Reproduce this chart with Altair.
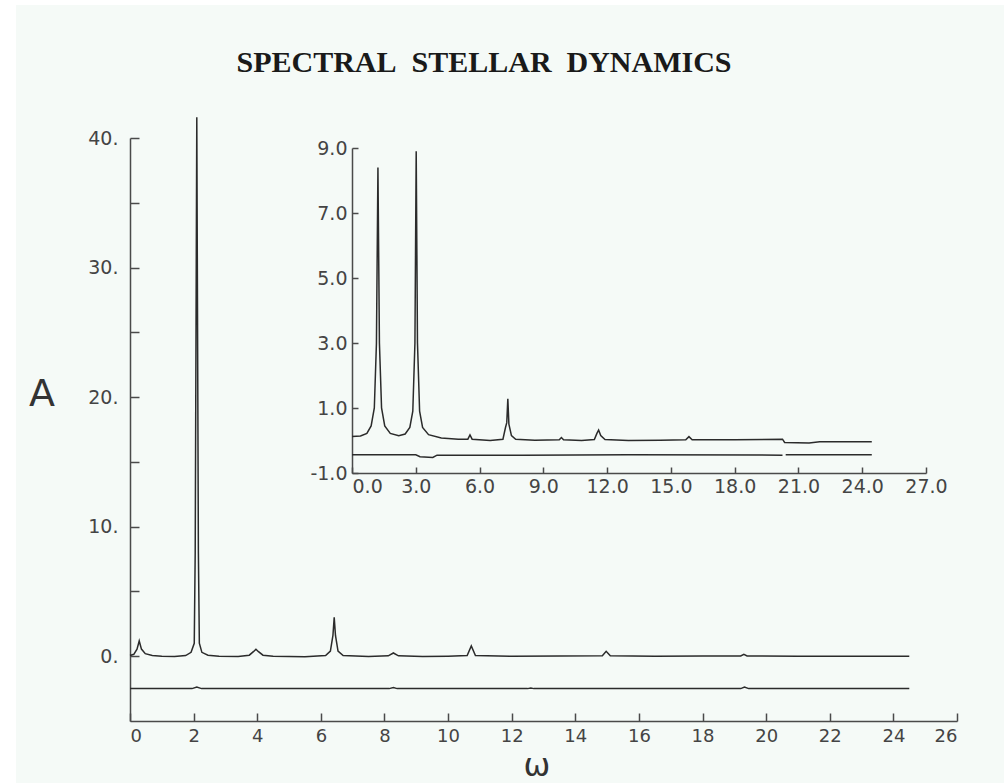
import altair as alt
import pandas as pd

# ---- main spectrum: upper trace (omega, amplitude)
main_upper_w = [0.00, 0.12, 0.22, 0.29, 0.36, 0.48, 0.70, 1.00, 1.40, 1.75, 1.92, 2.02,
                2.05, 2.10, 2.15, 2.18, 2.26, 2.45, 2.80, 3.40, 3.75, 3.88, 3.96, 4.04,
                4.18, 4.50, 5.50, 6.15, 6.30, 6.38, 6.42, 6.46, 6.54, 6.70, 7.50, 8.12,
                8.28, 8.44, 9.20, 10.00, 10.60, 10.73, 10.86, 12.00, 13.50, 14.85, 14.97,
                15.10, 16.50, 18.00, 19.20, 19.30, 19.40, 21.00, 23.00, 24.50]
main_upper_a = [0.05, 0.15, 0.55, 1.18, 0.55, 0.20, 0.05, 0.00, -0.02, 0.05, 0.30, 1.00,
                8.00, 41.60, 8.00, 1.00, 0.30, 0.08, 0.00, -0.03, 0.08, 0.35, 0.54, 0.35,
                0.08, 0.00, -0.04, 0.05, 0.40, 1.60, 3.00, 1.60, 0.40, 0.05, -0.02, 0.03,
                0.25, 0.03, -0.03, 0.00, 0.05, 0.80, 0.05, 0.00, 0.02, 0.03, 0.38,
                0.03, 0.00, 0.02, 0.02, 0.15, 0.02, 0.00, 0.00, 0.00]

# ---- main spectrum: lower trace
main_lower_w = [0.00, 1.95, 2.10, 2.25, 8.15, 8.28, 8.40, 12.50, 12.60, 12.70, 19.20,
                19.32, 19.45, 24.50]
main_lower_a = [-2.50, -2.50, -2.38, -2.50, -2.50, -2.42, -2.50, -2.50, -2.45, -2.50,
                -2.50, -2.38, -2.50, -2.50]

# ---- inset spectrum: upper trace
inset_upper_w = [0.00, 0.40, 0.70, 0.90, 1.05, 1.15, 1.22, 1.29, 1.39, 1.54, 1.80, 2.20,
                 2.50, 2.72, 2.86, 2.96, 3.02, 3.08, 3.18, 3.32, 3.60, 4.20, 5.00, 5.45,
                 5.55, 5.65, 6.50, 7.10, 7.22, 7.28, 7.33, 7.38, 7.50, 7.70, 8.60, 9.75,
                 9.85, 9.95, 10.80, 11.40, 11.52, 11.60, 11.70, 11.90, 13.00, 14.50, 15.70,
                 15.85, 16.00, 18.00, 20.25, 20.35, 21.50, 22.00, 24.45]
inset_upper_a = [0.12, 0.14, 0.22, 0.45, 1.00, 3.00, 8.40, 3.00, 1.00, 0.45, 0.22, 0.15,
                 0.20, 0.40, 0.90, 3.00, 8.90, 3.00, 0.90, 0.40, 0.18, 0.08, 0.04, 0.04,
                 0.17, 0.04, 0.00, 0.04, 0.40, 0.55, 1.28, 0.50, 0.15, 0.04, 0.01, 0.02,
                 0.09, 0.02, 0.00, 0.03, 0.22, 0.32, 0.15, 0.03, 0.00, 0.01, 0.02,
                 0.12, 0.02, 0.02, 0.04, -0.06, -0.08, -0.04, -0.04]

# ---- inset spectrum: lower trace (pen lifted near omega = 20.3)
inset_lower_w = [0.00, 3.00, 3.20, 3.80, 4.00, 8.00, 13.00, 20.25, 20.40, 24.45]
inset_lower_a = [-0.44, -0.44, -0.50, -0.52, -0.45, -0.45, -0.44, -0.45, -0.44, -0.44]
inset_lower_seg = [0, 0, 0, 0, 0, 0, 0, 0, 1, 1]

# ---- axis ticks
main_x_ticks = list(range(0, 27, 2))
main_y_labels = [0, 10, 20, 30, 40]
main_y_ticks = [0, 5, 10, 15, 20, 25, 30, 35, 40]
inset_x_ticks = [0, 3, 6, 9, 12, 15, 18, 21, 24, 27]
inset_y_ticks = [-1, 1, 3, 5, 7, 9]

NBSP = "\u00a0"
TITLE = f"SPECTRAL{NBSP}{NBSP}STELLAR{NBSP}{NBSP}DYNAMICS"

# plot-area geometry (pixels)
W, H = 827, 583
INSET_X = [222, 796]
INSET_Y = [335, 10]

INK = "#2b2b2b"
AXIS = "#4a4a4a"
FONT = "DejaVu Sans"
LABEL = "#444444"

main_upper = pd.DataFrame({"w": main_upper_w, "a": main_upper_a})
main_lower = pd.DataFrame({"w": main_lower_w, "a": main_lower_a})
inset_upper = pd.DataFrame({"w": inset_upper_w, "a": inset_upper_a})
inset_lower = pd.DataFrame({"w": inset_lower_w, "a": inset_lower_a, "seg": inset_lower_seg})

main_xs = alt.Scale(domain=[0, 26], range=[0, W], nice=False, zero=False)
main_ys = alt.Scale(domain=[-5, 40], range=[H, 0], nice=False, zero=False)
inset_xs = alt.Scale(domain=[0, 27], range=INSET_X, nice=False, zero=False)
inset_ys = alt.Scale(domain=[-1, 9], range=INSET_Y, nice=False, zero=False)

common = dict(grid=False, title=None, domainColor=AXIS, domainWidth=1.5,
              tickColor=AXIS, tickWidth=1.5, labelFont=FONT, labelColor=LABEL)

# one-decimal labels written with a plain hyphen for negatives
ONE_DEC = "(datum.value < 0 ? '-' : '') + format(abs(datum.value), '.1f')"

line = dict(color=INK, strokeWidth=1.5, clip=False)

# main upper trace, carries the labelled axes
l_main_upper = alt.Chart(main_upper).mark_line(**line).encode(
    x=alt.X("w:Q", scale=main_xs, axis=alt.Axis(
        orient="bottom", values=main_x_ticks, ticks=False, labelPadding=6,
        labelFontSize=18, format="d", **common)),
    y=alt.Y("a:Q", scale=main_ys, axis=alt.Axis(
        orient="left", values=main_y_labels, ticks=False, labelPadding=12,
        labelFontSize=19, labelExpr="datum.value + '.'", **common)),
)

# main lower trace, carries the inward tick marks
l_main_lower = alt.Chart(main_lower).mark_line(**line).encode(
    x=alt.X("w:Q", scale=main_xs, axis=alt.Axis(
        orient="bottom", values=main_x_ticks, labels=False, domain=False,
        tickSize=8, offset=-8, **common)),
    y=alt.Y("a:Q", scale=main_ys, axis=alt.Axis(
        orient="left", values=main_y_ticks, labels=False, domain=False,
        tickSize=9, offset=-9, **common)),
)

# inset upper trace with labelled axes, shifted into the inset frame
l_inset_upper = alt.Chart(inset_upper).mark_line(**line).encode(
    x=alt.X("w:Q", scale=inset_xs, axis=alt.Axis(
        orient="bottom", values=inset_x_ticks, ticks=False, labelPadding=4,
        labelFontSize=19, labelExpr=ONE_DEC, offset=INSET_Y[0] - H,
        labelAlign={"condition": {"test": "datum.value == 0", "value": "left"},
                    "value": "center"},
        **common)),
    y=alt.Y("a:Q", scale=inset_ys, axis=alt.Axis(
        orient="left", values=inset_y_ticks, ticks=False, labelPadding=5,
        labelFontSize=19, labelExpr=ONE_DEC, offset=-INSET_X[0], **common)),
)

l_inset_lower = alt.Chart(inset_lower).mark_line(**line).encode(
    x=alt.X("w:Q", scale=inset_xs, axis=alt.Axis(
        orient="bottom", values=inset_x_ticks, labels=False, domain=False,
        tickSize=6, offset=INSET_Y[0] - H - 6, **common)),
    y=alt.Y("a:Q", scale=inset_ys, axis=alt.Axis(
        orient="left", values=inset_y_ticks, labels=False, domain=False,
        tickSize=6, offset=-INSET_X[0] - 6, **common)),
    detail="seg:N",
)

one = alt.Data(values=[{}])

title = alt.Chart(one).mark_text(
    text=TITLE, font="Liberation Serif", fontSize=30, fontWeight="bold",
    color="#1a1a1a", align="center", baseline="middle",
).encode(x=alt.value(354), y=alt.value(-75))

y_label = alt.Chart(one).mark_text(
    text="A", font=FONT, fontSize=38, color="#333333", align="center", baseline="middle",
).encode(x=alt.value(-88), y=alt.value(257))

x_label = alt.Chart(one).mark_text(
    text="ω", font=FONT, fontSize=32, color="#333333", align="center", baseline="middle",
).encode(x=alt.value(407), y=alt.value(628))

# white margin strips along the top and left edges of the sheet
edge_left = alt.Chart(one).mark_rect(color="white").encode(
    x=alt.value(-130), x2=alt.value(-114), y=alt.value(-138), y2=alt.value(645))
edge_top = alt.Chart(one).mark_rect(color="white").encode(
    x=alt.value(-130), x2=alt.value(874), y=alt.value(-138), y2=alt.value(-133))

chart = alt.layer(
    edge_left, edge_top,
    l_main_upper, l_main_lower, l_inset_upper, l_inset_lower,
    title, y_label, x_label,
).resolve_scale(x="independent", y="independent").properties(
    width=W, height=H,
    autosize=alt.AutoSizeParams(type="none"),
    padding={"left": 130, "top": 138, "right": 47, "bottom": 62},
    background="#f5faf7",
).configure_view(stroke=None)

chart.save("out.html", embed_options={"renderer": "svg", "actions": False})
